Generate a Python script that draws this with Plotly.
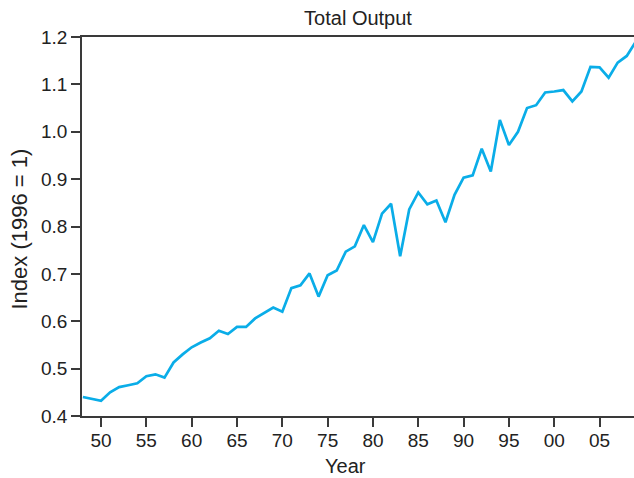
import plotly.graph_objects as go

years = list(range(1948, 2010))
output_index = [
    0.440, 0.436, 0.432, 0.450, 0.461, 0.465, 0.469, 0.484, 0.488, 0.481,
    0.513, 0.530, 0.545, 0.555, 0.564, 0.580, 0.573, 0.588, 0.588, 0.606,
    0.617, 0.629, 0.620, 0.670, 0.676, 0.701, 0.652, 0.697, 0.707, 0.747,
    0.758, 0.803, 0.767, 0.827, 0.848, 0.737, 0.836, 0.872, 0.847, 0.855,
    0.809, 0.867, 0.903, 0.908, 0.964, 0.916, 1.025, 0.972, 1.000, 1.050,
    1.056, 1.083, 1.085, 1.088, 1.064, 1.085, 1.137, 1.136, 1.114, 1.146,
    1.160, 1.190,
]
x_tick_vals = [1950, 1955, 1960, 1965, 1970, 1975, 1980, 1985, 1990, 1995, 2000, 2005]
x_tick_text = ["50", "55", "60", "65", "70", "75", "80", "85", "90", "95", "00", "05"]
y_tick_vals = [0.4, 0.5, 0.6, 0.7, 0.8, 0.9, 1.0, 1.1, 1.2]

axis_color = "#3a3a3a"
text_color = "#222222"
font_family = "Liberation Sans, Arial, sans-serif"

W, H = 634, 478
L, T, B = 82, 37, 62
PW, PH = W - L, H - T - B

fig = go.Figure()
fig.add_trace(go.Scatter(
    x=years, y=output_index, mode="lines",
    line=dict(color="#0AADE8", width=2.7),
    hoverinfo="skip", showlegend=False,
))

fig.update_layout(
    width=W, height=H,
    margin=dict(l=L, r=0, t=T, b=B, autoexpand=False),
    paper_bgcolor="white", plot_bgcolor="white",
    font=dict(family=font_family, size=19, color=text_color),
    title=dict(text="Total Output", xref="paper", x=0.5, xanchor="center",
               y=1 - 18 / H, yanchor="middle",
               font=dict(size=20, family=font_family, color=text_color)),
    annotations=[
        dict(text="Index (1996 = 1)", xref="paper", yref="paper",
             x=(18.5 - L) / PW, y=(416 - 229) / PH, xanchor="center", yanchor="middle",
             textangle=-90, showarrow=False,
             font=dict(size=22, family=font_family, color=text_color)),
        dict(text="Year", xref="paper", yref="paper",
             x=(345 - L) / PW, y=-(466 - 416) / PH, xanchor="center", yanchor="middle",
             showarrow=False,
             font=dict(size=20, family=font_family, color=text_color)),
    ],
)
fig.update_xaxes(
    range=[1947.9, 2008.8], tickvals=x_tick_vals, ticktext=x_tick_text,
    showgrid=False, zeroline=False, automargin=False,
    showline=True, linecolor=axis_color, linewidth=1.5, mirror=True,
    ticks="outside", ticklen=9, tickwidth=1.5, tickcolor=axis_color,
    ticklabelstandoff=-3,
    tickfont=dict(size=19, family=font_family, color=text_color),
)
fig.update_yaxes(
    range=[0.4, 1.2], tickvals=y_tick_vals, tickformat=".1f",
    showgrid=False, zeroline=False, automargin=False,
    showline=True, linecolor=axis_color, linewidth=1.5, mirror=True,
    ticks="outside", ticklen=9, tickwidth=1.5, tickcolor=axis_color,
    tickfont=dict(size=19, family=font_family, color=text_color),
)

fig.write_html(
    "out.html",
    config={"displayModeBar": False},
    post_script="document.body.style.margin='0';document.body.style.overflow='hidden';",
)
